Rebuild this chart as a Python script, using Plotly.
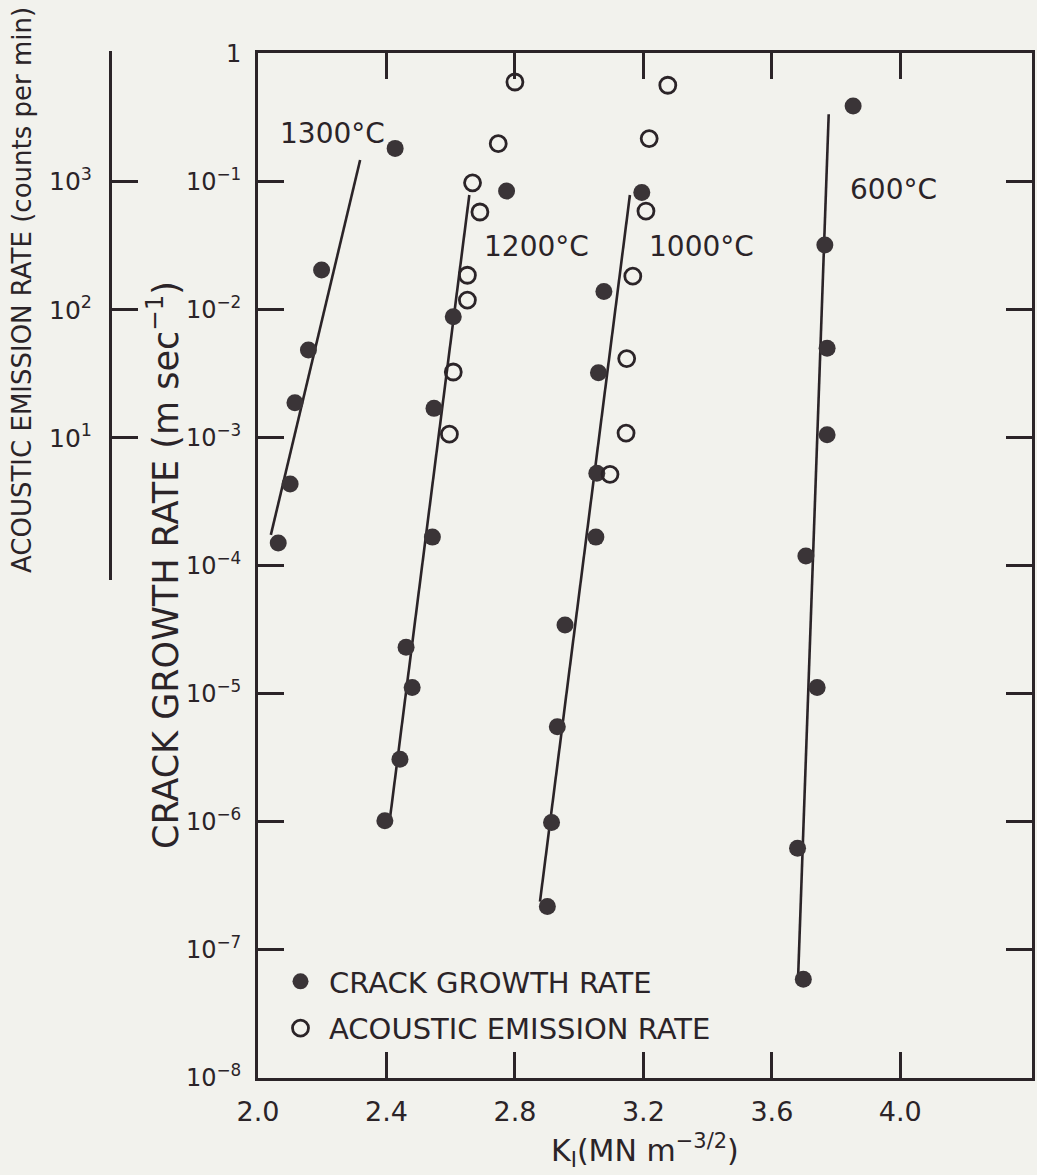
import plotly.graph_objects as go

# Crack growth rate (m/s) against stress intensity factor K_I (MN m^-3/2)
k_1300 = [2.063, 2.100, 2.115, 2.157, 2.198, 2.427]
v_1300 = [1.50e-4, 4.34e-4, 1.87e-3, 4.83e-3, 2.03e-2, 1.81e-1]

k_1200 = [2.395, 2.442, 2.480, 2.461, 2.543, 2.548, 2.608, 2.774]
v_1200 = [1.02e-6, 3.08e-6, 1.12e-5, 2.31e-5, 1.67e-4, 1.69e-3, 8.79e-3, 8.4e-2]

k_1000 = [2.901, 2.914, 2.932, 2.956, 3.052, 3.055, 3.060, 3.077, 3.195]
v_1000 = [2.18e-7, 9.86e-7, 5.53e-6, 3.44e-5, 1.67e-4, 5.26e-4, 3.21e-3, 1.38e-2, 8.2e-2]

k_600 = [3.698, 3.680, 3.741, 3.706, 3.772, 3.772, 3.765, 3.853]
v_600 = [5.9e-8, 6.22e-7, 1.12e-5, 1.19e-4, 1.05e-3, 4.98e-3, 3.19e-2, 3.88e-1]

# Acoustic emission rate (counts per min)
ae_k_1200 = [2.596, 2.608, 2.652, 2.652, 2.691, 2.668, 2.748, 2.800]
ae_n_1200 = [10.7, 32.7, 119, 186, 580, 980, 1980, 6000]
ae_k_1000 = [3.096, 3.146, 3.148, 3.167, 3.208, 3.218, 3.276]
ae_n_1000 = [5.2, 10.9, 41.6, 183, 590, 2170, 5660]

# Straight-line fits (end points) for each temperature
fit_k_1300 = [2.040, 2.318]
fit_v_1300 = [1.74e-4, 1.47e-1]
fit_k_1200 = [2.411, 2.658]
fit_v_1200 = [1.07e-6, 7.83e-2]
fit_k_1000 = [2.878, 3.158]
fit_v_1000 = [2.38e-7, 7.83e-2]
fit_k_600 = [3.682, 3.777]
fit_v_600 = [6.38e-8, 3.34e-1]

temperatures = ["1300°C", "1200°C", "1000°C", "600°C"]

x_ticks = [2.0, 2.4, 2.8, 3.2, 3.6, 4.0]
x_tick_text = ["2.0", "2.4", "2.8", "3.2", "3.6", "4.0"]
y_ticks = [1e-8, 1e-7, 1e-6, 1e-5, 1e-4, 1e-3, 1e-2, 1e-1, 1]
y_tick_text = ["10<sup>−8</sup>", "10<sup>−7</sup>", "10<sup>−6</sup>", "10<sup>−5</sup>",
               "10<sup>−4</sup>", "10<sup>−3</sup>", "10<sup>−2</sup>", "10<sup>−1</sup>", "1"]
ae_ticks = [10, 100, 1000]
ae_tick_text = ["10<sup>1</sup>", "10<sup>2</sup>", "10<sup>3</sup>"]

BG = "#f2f2ed"
INK = "#2b2428"
DOT = "#3a3437"
FONT = "DejaVu Sans"

W, H = 1037, 1175
ML, MR, MT, MB = 100, 5, 40, 97
PW, PH = W - ML - MR, H - MT - MB


def px_x(p):
    return (p - ML) / PW


def px_y(p):
    return (H - MB - p) / PH


fig = go.Figure()

fits = [(fit_k_1300, fit_v_1300), (fit_k_1200, fit_v_1200),
        (fit_k_1000, fit_v_1000), (fit_k_600, fit_v_600)]
for fk, fv in fits:
    fig.add_trace(go.Scatter(x=fk, y=fv, mode="lines", line=dict(color=INK, width=2.6),
                             showlegend=False, hoverinfo="skip"))

crack_sets = [(k_1300, v_1300), (k_1200, v_1200), (k_1000, v_1000), (k_600, v_600)]
for i, (kk, vv) in enumerate(crack_sets):
    fig.add_trace(go.Scatter(
        x=kk, y=vv, mode="markers", name="CRACK GROWTH RATE",
        legendgroup="crack", showlegend=(i == 0),
        marker=dict(symbol="circle", size=17, color=DOT, line=dict(width=0)),
    ))

ae_sets = [(ae_k_1200, ae_n_1200), (ae_k_1000, ae_n_1000)]
for i, (kk, nn) in enumerate(ae_sets):
    fig.add_trace(go.Scatter(
        x=kk, y=nn, mode="markers", name="ACOUSTIC EMISSION RATE",
        legendgroup="ae", showlegend=(i == 0), yaxis="y2",
        marker=dict(symbol="circle-open", size=16, color=INK, line=dict(width=2.8, color=INK)),
    ))

# Temperature labels beside each line (log axis -> y in log10 units)
label_pos = [(2.062, -0.63), (2.697, -1.512), (3.211, -1.512), (3.837, -1.06)]
for txt, (lx, ly) in zip(temperatures, label_pos):
    fig.add_annotation(x=lx, y=ly, xref="x", yref="y", text=txt, showarrow=False,
                       xanchor="left", yanchor="middle",
                       font=dict(family=FONT, size=28, color=INK))

# Axis titles
fig.add_annotation(x=px_x(163), y=px_y(565), xref="paper", yref="paper",
                   text="CRACK GROWTH RATE (m sec<sup>−1</sup>)", textangle=-90,
                   showarrow=False, xanchor="center", yanchor="middle",
                   font=dict(family=FONT, size=35, color=INK))
fig.add_annotation(x=px_x(22), y=px_y(290), xref="paper", yref="paper",
                   text="ACOUSTIC EMISSION RATE (counts per min)", textangle=-90,
                   showarrow=False, xanchor="center", yanchor="middle",
                   font=dict(family=FONT, size=26, color=INK))
fig.add_annotation(x=px_x(645), y=px_y(1150), xref="paper", yref="paper",
                   text="K<sub>I</sub>(MN m<sup>−3/2</sup>)",
                   showarrow=False, xanchor="center", yanchor="middle",
                   font=dict(family=FONT, size=30, color=INK))

axis_common = dict(
    showgrid=False, zeroline=False, showline=True, linecolor=INK, linewidth=3,
    ticks="inside", ticklen=26, tickwidth=2.5, tickcolor=INK,
)

fig.update_layout(
    width=W, height=H,
    margin=dict(l=ML, r=MR, t=MT, b=MB, autoexpand=False),
    paper_bgcolor=BG, plot_bgcolor="rgba(0,0,0,0)",
    template="none",
    xaxis=dict(domain=[px_x(258), 1], range=[2.0, 4.41], tickmode="array",
               tickvals=x_ticks, ticktext=x_tick_text, mirror="ticks", anchor="y",
               ticklabelstandoff=8, automargin=False,
               tickfont=dict(family=FONT, size=27, color=INK), **axis_common),
    yaxis=dict(type="log", domain=[0, px_y(53.3)], range=[-8, 0], tickmode="array",
               tickvals=y_ticks, ticktext=y_tick_text, mirror="ticks", anchor="x",
               ticklabelstandoff=9, automargin=False,
               tickfont=dict(family=FONT, size=24, color=INK), **axis_common),
    yaxis2=dict(type="log", domain=[px_y(580), px_y(51)], range=[-0.109, 4.02],
                anchor="free", position=px_x(110), side="left", tickmode="array",
                tickvals=ae_ticks, ticktext=ae_tick_text, ticklabelstandoff=12,
                automargin=False,
                tickfont=dict(family=FONT, size=25, color=INK), **axis_common),
    showlegend=True,
    legend=dict(x=px_x(272), y=px_y(956), xanchor="left", yanchor="top",
                bgcolor="rgba(0,0,0,0)", borderwidth=0, tracegroupgap=6,
                traceorder="grouped", itemsizing="trace", itemwidth=47,
                font=dict(family=FONT, size=29, color=INK)),
)

fig.write_html("out.html")
